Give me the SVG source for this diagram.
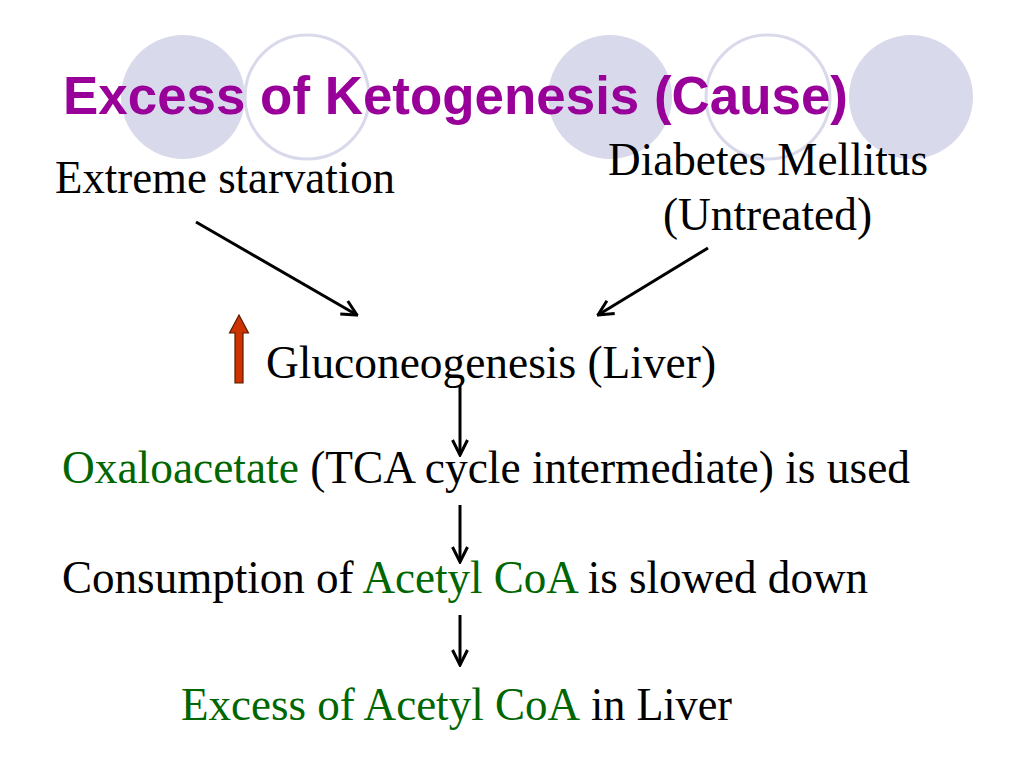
<svg xmlns="http://www.w3.org/2000/svg" width="1024" height="768" viewBox="0 0 1024 768">
<style>
.t{font-family:"Liberation Serif","Times New Roman",serif;font-size:47px;fill:#000}
.g{fill:#006600}
.title{font-family:"Liberation Sans",Arial,sans-serif;font-weight:bold;font-size:53px;fill:#990099}
.cf{fill:#d9d9ec;stroke:none}
.co{fill:none;stroke:#d9d9ec;stroke-width:3}
.c{stroke:#000;stroke-width:3;fill:none;marker-end:url(#ah)}
</style>
<defs>
<marker id="ah" viewBox="0 0 12 12" refX="11" refY="6" markerWidth="6" markerHeight="6" orient="auto" markerUnits="strokeWidth">
<path d="M1,1 L11,6 L1,11" fill="none" stroke="#000" stroke-width="2"/>
</marker>
</defs>
<rect width="1024" height="768" fill="#fff"/>
<g id="decor">
<circle class="cf" cx="183" cy="97" r="62"/>
<circle class="co" cx="307" cy="97" r="62"/>
<circle class="cf" cx="610" cy="97" r="62"/>
<circle class="co" cx="768" cy="97" r="62"/>
<circle class="cf" cx="911" cy="97" r="62"/>
</g>
<g id="title"><text class="title" x="63" y="114" textLength="785" lengthAdjust="spacingAndGlyphs">Excess of Ketogenesis  (Cause)</text></g>
<g id="starvation"><text class="t" x="55" y="193" textLength="340" lengthAdjust="spacingAndGlyphs">Extreme starvation</text></g>
<g id="diabetes"><text class="t" x="608" y="175" textLength="320" lengthAdjust="spacingAndGlyphs">Diabetes Mellitus</text><text class="t" x="663" y="230" textLength="209" lengthAdjust="spacingAndGlyphs">(Untreated)</text></g>
<g id="increase"><path d="M235,383 L235,333 L229.5,333 L239,315 L248.5,333 L243,333 L243,383 Z" fill="#cc3300" stroke="#5a1a00" stroke-width="1.2"/></g>
<g id="gluconeogenesis"><text class="t" x="266" y="378" textLength="450" lengthAdjust="spacingAndGlyphs">Gluconeogenesis (Liver)</text></g>
<g id="oxaloacetate"><text class="t" x="62" y="483" textLength="848" lengthAdjust="spacingAndGlyphs"><tspan class="g">Oxaloacetate</tspan> (TCA cycle intermediate) is used</text></g>
<g id="consumption"><text class="t" x="62" y="593" textLength="806" lengthAdjust="spacingAndGlyphs">Consumption of <tspan class="g">Acetyl CoA</tspan> is slowed down</text></g>
<g id="excess"><text class="t g" x="181" y="720" textLength="399" lengthAdjust="spacingAndGlyphs">Excess of Acetyl CoA</text><text class="t" x="591" y="720" textLength="141" lengthAdjust="spacingAndGlyphs">in Liver</text></g>
<g id="connectors">
<line class="c" x1="196" y1="222" x2="357" y2="315"/>
<line class="c" x1="708" y1="248" x2="598" y2="315"/>
<line class="c" x1="460" y1="385" x2="460" y2="455"/>
<line class="c" x1="460" y1="505" x2="460" y2="562"/>
<line class="c" x1="460" y1="615" x2="460" y2="665"/>
</g>
</svg>
